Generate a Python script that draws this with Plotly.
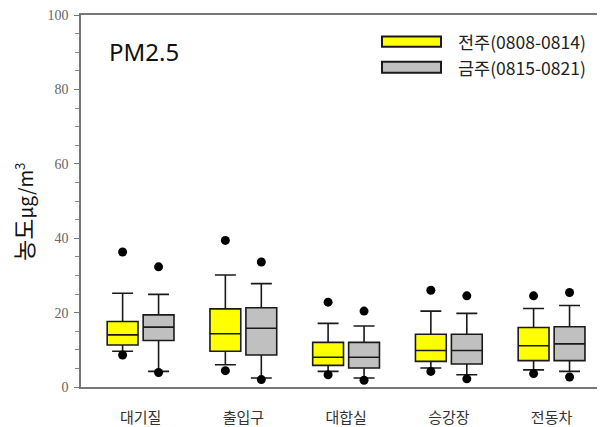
import plotly.graph_objects as go

categories = ["대기질", "출입구", "대합실", "승강장", "전동차"]
series_names = ["전주(0808-0814)", "금주(0815-0821)"]

# week 1 (yellow)
w1_q1 = [11.3, 9.6, 5.8, 6.9, 7.1]
w1_med = [14.0, 14.3, 8.0, 9.8, 11.1]
w1_q3 = [17.6, 21.0, 12.0, 14.2, 16.0]
w1_lo = [9.6, 6.0, 4.2, 5.1, 4.6]
w1_hi = [25.2, 30.1, 17.1, 20.4, 21.1]
w1_out_hi = [36.3, 39.4, 22.8, 26.0, 24.5]
w1_out_lo = [8.6, 4.4, 3.3, 4.2, 3.6]

# week 2 (gray)
w2_q1 = [12.5, 8.6, 5.1, 6.2, 7.1]
w2_med = [16.1, 15.8, 8.0, 9.8, 11.6]
w2_q3 = [19.4, 21.3, 12.0, 14.2, 16.2]
w2_lo = [4.2, 2.4, 2.4, 3.3, 4.2]
w2_hi = [24.9, 27.8, 16.4, 19.8, 21.9]
w2_out_hi = [32.3, 33.6, 20.4, 24.5, 25.4]
w2_out_lo = [3.9, 2.0, 1.8, 2.2, 2.7]

y_ticks = [0, 20, 40, 60, 80, 100]

colors = ["#FFFF00", "#C0C0C0"]
offsets = [-0.175, 0.175]

fig = go.Figure()

series = [
    (w1_q1, w1_med, w1_q3, w1_lo, w1_hi, w1_out_hi, w1_out_lo),
    (w2_q1, w2_med, w2_q3, w2_lo, w2_hi, w2_out_hi, w2_out_lo),
]

for s, (q1, med, q3, lo, hi, ohi, olo) in enumerate(series):
    xs = [i + offsets[s] for i in range(len(categories))]
    fig.add_trace(go.Box(
        x=xs, q1=q1, median=med, q3=q3, lowerfence=lo, upperfence=hi,
        width=0.30, whiskerwidth=0.68, boxpoints=False,
        fillcolor=colors[s], line=dict(color="#1a1a1a", width=1.6),
        name=series_names[s], showlegend=False, hoverinfo="skip",
    ))
    fig.add_trace(go.Scatter(
        x=xs + xs, y=ohi + olo, mode="markers",
        marker=dict(color="black", size=9),
        showlegend=False, hoverinfo="skip",
    ))

# custom legend (plot area spans 524 x 374 px)
leg_y = [(1 - (36.5 - 15) / 374, 1 - (47 - 15) / 374), (1 - (62 - 15) / 374, 1 - (73 - 15) / 374)]
for s in range(2):
    y0, y1 = leg_y[s]
    fig.add_shape(type="rect", xref="paper", yref="paper",
                  x0=(382 - 81) / 524, x1=(441 - 81) / 524, y0=y1, y1=y0,
                  fillcolor=colors[s], line=dict(color="#1a1a1a", width=2))
    fig.add_annotation(xref="paper", yref="paper", x=(456 - 81) / 524, y=(y0 + y1) / 2,
                       text=series_names[s], showarrow=False, xanchor="left", yanchor="middle",
                       font=dict(family="Noto Sans CJK KR", size=17.5, color="#222"))

fig.add_annotation(xref="paper", yref="paper", x=(107 - 81) / 524, y=1 - (52 - 15) / 374,
                   text="PM2.5", showarrow=False, xanchor="left", yanchor="middle",
                   font=dict(family="Noto Sans", size=24, color="#111"))

fig.add_annotation(xref="paper", yref="paper", x=-(81 - 23) / 524, y=1 - (213 - 15) / 374,
                   text="농도<span style='font-size:19px'>μg/m<sup>3</sup></span>",
                   showarrow=False, textangle=-90, xanchor="center", yanchor="middle",
                   font=dict(family="Noto Sans CJK KR", size=23, color="#111"))

# the page body adds an 8px margin; size the figure so the plot lands where the reference has it
fig.update_layout(
    width=597, height=419,
    margin=dict(l=73, r=0, t=7, b=38),
    paper_bgcolor="white", plot_bgcolor="white",
    showlegend=False,
    xaxis=dict(
        range=[-0.58, 4.52], tickvals=list(range(len(categories))), ticktext=categories,
        showline=True, linecolor="#777", linewidth=1.5, mirror=True,
        ticks="", showgrid=False, zeroline=False,
        tickfont=dict(family="Noto Sans CJK KR", size=15, color="#333"),
        ticklabelstandoff=16,
    ),
    yaxis=dict(
        range=[0, 100], tickvals=y_ticks,
        showline=True, linecolor="#777", linewidth=1.5, mirror=False,
        ticks="outside", ticklen=5, tickcolor="#777", tickwidth=1,
        minor=dict(dtick=5, ticks="outside", ticklen=4, tickcolor="#888", tickwidth=1),
        showgrid=False, zeroline=False,
        tickfont=dict(family="Liberation Serif", size=14, color="#666"),
        ticklabelstandoff=3, ticklabeloverflow="allow",
    ),
)

fig.write_html("out.html")
